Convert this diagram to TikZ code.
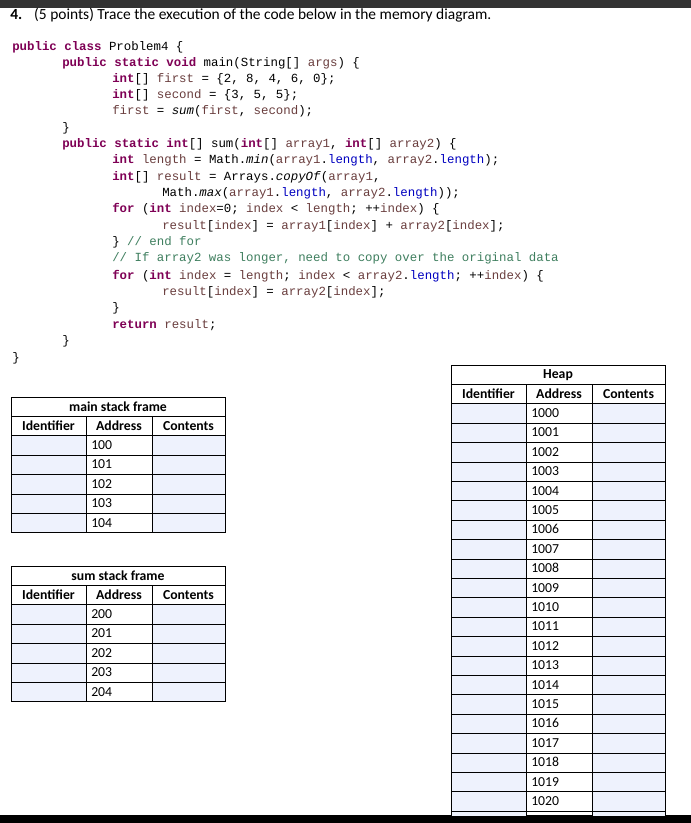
\documentclass[tikz,border=0pt]{standalone}
\usepackage{fontspec}
\setmainfont{Carlito}
\setmonofont{Liberation Mono}
\definecolor{kwc}{HTML}{7F0055}
\definecolor{vrc}{HTML}{6A3E3E}
\definecolor{fdc}{HTML}{0000C0}
\definecolor{cmc}{HTML}{3F7F5F}
\definecolor{cellc}{HTML}{EEF2FD}
\newcommand\kw[1]{\textcolor{kwc}{\bfseries #1}}
\newcommand\vr[1]{\textcolor{vrc}{#1}}
\newcommand\fd[1]{\textcolor{fdc}{#1}}
\newcommand\cm[1]{\textcolor{cmc}{#1}}
\newcommand\memtable[6]{% #1 prefix, #2 x left, #3 y top, #4 title, #5 first addr, #6 rows
  \pgfmathsetmacro\xa{#2}\pgfmathsetmacro\xb{#2+75}\pgfmathsetmacro\xc{#2+141}\pgfmathsetmacro\xd{#2+214}
  \pgfmathsetmacro\ya{#3+19.4}\pgfmathsetmacro\yb{#3+38.8}
  \draw[tline] (\xa,#3) rectangle (\xd,\ya);
  \node[htxt] (#1-title) at ({(\xa+\xd)/2},{#3+9.7}) {#4};
  \draw[tline] (\xa,\ya) rectangle (\xd,\yb);
  \node[htxt] (#1-h1) at ({(\xa+\xb)/2},{\ya+9.7}) {Identifier};
  \node[htxt] (#1-h2) at ({(\xb+\xc)/2},{\ya+9.7}) {Address};
  \node[htxt] (#1-h3) at ({(\xc+\xd)/2},{\ya+9.7}) {Contents};
  \draw[tline] (\xb,\ya) -- (\xb,\yb) (\xc,\ya) -- (\xc,\yb);
  \foreach \i in {1,...,#6}{
    \pgfmathsetmacro\yt{\yb+(\i-1)*19.4}\pgfmathsetmacro\yu{\yt+19.4}
    \pgfmathtruncatemacro\ad{#5+\i-1}
    \fill[cellc] (\xa,\yt) rectangle (\xb,\yu);
    \fill[cellc] (\xc,\yt) rectangle (\xd,\yu);
    \draw[tline] (\xa,\yt) rectangle (\xd,\yu) (\xb,\yt) -- (\xb,\yu) (\xc,\yt) -- (\xc,\yu);
    \node[ctxt] (#1-a\i) at (\xb+5,{\yt+9.2}) {\ad};
  }
}
\begin{document}
\begin{tikzpicture}[x=0.75pt,y=-0.75pt,
  code/.style={anchor=base west,inner sep=0pt,font=\fontsize{9.3pt}{11pt}\ttfamily},
  tline/.style={draw=black,line width=0.6pt},
  htxt/.style={inner sep=0pt,font=\fontsize{10.3pt}{12pt}\selectfont\bfseries},
  ctxt/.style={inner sep=0pt,anchor=west,font=\fontsize{10.3pt}{12pt}\selectfont}]
\useasboundingbox (0,0) rectangle (691,823);
\fill[white] (0,0) rectangle (691,823);
\fill[black!80] (0,0) rectangle (691,8);
\fill[black] (0,815) rectangle (691,823);
\node[anchor=base west,inner sep=0pt,font=\fontsize{11.6pt}{13pt}\selectfont] (title) at (10,20) {\textbf{4.}\hspace{9pt}(5 points) Trace the execution of the code below in the memory diagram.};
\node[code] (c1) at (12,51) {\kw{public} \kw{class} Problem4 \{};
\node[code] (c2) at (62,67) {\kw{public} \kw{static} \kw{void} main(String[] \vr{args}) \{};
\node[code] (c3) at (112,83) {\kw{int}[] \vr{first} = \{2, 8, 4, 6, 0\};};
\node[code] (c4) at (112,99) {\kw{int}[] \vr{second} = \{3, 5, 5\};};
\node[code] (c5) at (112,115) {\vr{first} = \textit{sum}(\vr{first}, \vr{second});};
\node[code] (c6) at (62,132) {\}};
\node[code] (c7) at (62,148) {\kw{public} \kw{static} \kw{int}[] sum(\kw{int}[] \vr{array1}, \kw{int}[] \vr{array2}) \{};
\node[code] (c8) at (112,164) {\kw{int} \vr{length} = Math.\textit{min}(\vr{array1}.\fd{length}, \vr{array2}.\fd{length});};
\node[code] (c9) at (112,181) {\kw{int}[] \vr{result} = Arrays.\textit{copyOf}(\vr{array1},};
\node[code] (c10) at (162,197) {Math.\textit{max}(\vr{array1}.\fd{length}, \vr{array2}.\fd{length}));};
\node[code] (c11) at (112,213) {\kw{for} (\kw{int} \vr{index}=0; \vr{index} < \vr{length}; ++\vr{index}) \{};
\node[code] (c12) at (162,230) {\vr{result}[\vr{index}] = \vr{array1}[\vr{index}] + \vr{array2}[\vr{index}];};
\node[code] (c13) at (112,246) {\} \cm{// end for}};
\node[code] (c14) at (112,262) {\cm{// If array2 was longer, need to copy over the original data}};
\node[code] (c15) at (112,279) {\kw{for} (\kw{int} \vr{index} = \vr{length}; \vr{index} < \vr{array2}.\fd{length}; ++\vr{index}) \{};
\node[code] (c16) at (162,295) {\vr{result}[\vr{index}] = \vr{array2}[\vr{index}];};
\node[code] (c17) at (112,311) {\}};
\node[code] (c18) at (112,328) {\kw{return} \vr{result};};
\node[code] (c19) at (62,344) {\}};
\node[code] (c20) at (12,361) {\}};
\memtable{m}{11}{397}{main stack frame}{100}{5}
\memtable{s}{11}{566}{sum stack frame}{200}{5}
\begin{scope}
\clip (0,0) rectangle (691,815);
\memtable{h}{451}{365}{Heap}{1000}{23}
\end{scope}
\end{tikzpicture}
\end{document}
